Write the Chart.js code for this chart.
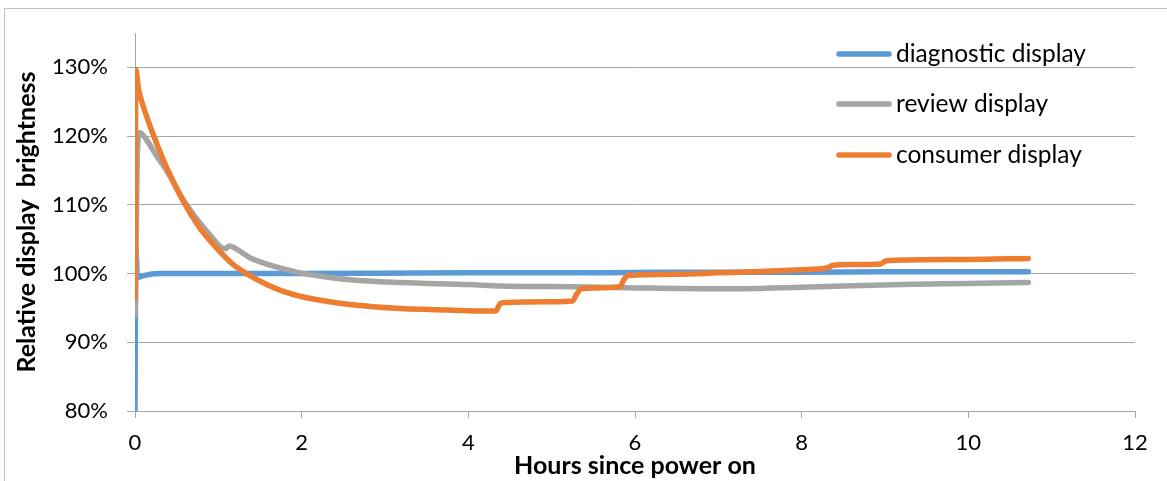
<!DOCTYPE html>
<html><head><meta charset="utf-8">
<script src="https://cdn.jsdelivr.net/npm/chart.js@4.4.0/dist/chart.umd.min.js"></script>
<style>html,body{margin:0;padding:0;background:#fff;overflow:hidden}#wrap{width:1167px;height:481px;position:relative}</style>
</head><body><div id="wrap"><canvas id="c" width="1167" height="481"></canvas></div>
<script>
const seriesNames = ['diagnostic display', 'review display', 'consumer display'];
const xTickValues = [0, 2, 4, 6, 8, 10, 12];
const yTickValues = [80, 90, 100, 110, 120, 130];
const xTitle = 'Hours since power on';
const yTitle = 'Relative display  brightness';

const diagHours  = [0, 0.01, 0.03, 0.1, 0.3, 1, 2, 3, 4, 5, 6, 7, 8, 9, 10, 10.72];
const diagValues = [80, 103.7, 99.4, 99.7, 100.0, 100.0, 100.0, 100.05, 100.1, 100.1, 100.15, 100.2, 100.2, 100.25, 100.25, 100.25];

const reviewHours  = [0, 0.005, 0.03, 0.06, 0.12, 0.25, 0.4, 0.55, 0.7, 0.88, 1.08, 1.13, 1.2, 1.38, 1.6, 1.98, 2.3, 2.58, 3.18, 4.0, 4.4, 5.0, 5.9, 6.8, 7.3, 8.0, 9.2, 10.0, 10.72];
const reviewValues = [94.0, 96.0, 118.0, 120.5, 119.8, 117.3, 114.6, 111.3, 108.6, 105.9, 103.6, 104.0, 103.7, 102.3, 101.3, 100.1, 99.5, 99.1, 98.7, 98.4, 98.2, 98.1, 97.95, 97.8, 97.8, 98.0, 98.4, 98.55, 98.7];

const consumerHours  = [0, 0.01, 0.04, 0.1, 0.22, 0.38, 0.58, 0.78, 0.98, 1.18, 1.38, 1.58, 1.78, 1.98, 2.28, 2.58, 3.18, 3.6, 4.0, 4.33, 4.38, 4.45, 5.0, 5.25, 5.3, 5.36, 5.5, 5.82, 5.87, 5.92, 6.5, 7.0, 7.5, 8.0, 8.3, 8.38, 8.6, 8.95, 9.0, 9.05, 10.0, 10.72];
const consumerValues = [96.3, 129.7, 127.0, 124.3, 120.2, 115.4, 110.5, 106.6, 103.7, 101.3, 99.7, 98.4, 97.4, 96.7, 96.0, 95.5, 94.9, 94.75, 94.6, 94.55, 95.6, 95.8, 95.9, 96.0, 97.0, 97.8, 97.9, 98.1, 99.2, 99.7, 99.9, 100.1, 100.3, 100.55, 100.8, 101.2, 101.3, 101.4, 101.8, 101.9, 102.05, 102.2];

const seriesColors = ['#5B9BD5', '#A5A5A5', '#ED7D31'];
const FONT = 'Lato';
const toPts = (h, v) => h.map((x, i) => ({x: x, y: v[i]}));

const framePlugin = {
  id: 'frame',
  beforeDraw(chart) {
    const c = chart.ctx;
    c.save();
    c.fillStyle = '#fff';
    c.fillRect(0, 0, chart.width, chart.height);
    c.strokeStyle = '#c0c0c0';
    c.lineWidth = 1;
    c.strokeRect(4.5, 8.5, 1300, 600);
    c.restore();
  }
};

const legendPlugin = {
  id: 'customLegend',
  afterDraw(chart) {
    const c = chart.ctx;
    const rows = [54, 104, 155];
    c.save();
    chart.data.datasets.forEach((ds, i) => {
      const y = rows[i];
      c.strokeStyle = ds.borderColor;
      c.lineWidth = 5.5;
      c.lineCap = 'round';
      c.beginPath();
      c.moveTo(839, y);
      c.lineTo(889, y);
      c.stroke();
      c.fillStyle = '#000';
      c.font = '24.5px ' + FONT;
      c.textBaseline = 'middle';
      c.textAlign = 'left';
      c.fillText(ds.label, 896, y);
    });
    c.restore();
  }
};

new Chart(document.getElementById('c'), {
  type: 'line',
  data: {
    datasets: [
      {label: seriesNames[0], data: toPts(diagHours, diagValues), borderColor: seriesColors[0], order: 3},
      {label: seriesNames[1], data: toPts(reviewHours, reviewValues), borderColor: seriesColors[1], order: 2},
      {label: seriesNames[2], data: toPts(consumerHours, consumerValues), borderColor: seriesColors[2], order: 1}
    ]
  },
  options: {
    responsive: false,
    animation: false,
    devicePixelRatio: 1,
    layout: {padding: {top: 33, right: 32, left: 0, bottom: 0}},
    elements: {
      point: {radius: 0, hoverRadius: 0},
      line: {borderWidth: 5.5, borderCapStyle: 'round', borderJoinStyle: 'round', cubicInterpolationMode: 'monotone', fill: false}
    },
    plugins: {legend: {display: false}, tooltip: {enabled: false}},
    scales: {
      x: {
        type: 'linear', min: 0, max: 12,
        afterFit(s) { s.height = 70; },
        afterBuildTicks(s) { s.ticks = xTickValues.map(v => ({value: v})); },
        ticks: {font: {family: FONT, size: 22}, color: '#000', padding: 12, maxRotation: 0, autoSkip: false},
        grid: {drawOnChartArea: false, drawTicks: true, tickLength: 7, color: '#a6a6a6', lineWidth: 1},
        border: {display: true, color: '#a6a6a6', width: 1},
        title: {display: true, text: xTitle, font: {family: FONT, size: 25, weight: 'bold'}, color: '#000', padding: {top: 0, bottom: 0}}
      },
      y: {
        min: 80, max: 135,
        afterFit(s) { s.width = 135; },
        afterBuildTicks(s) { s.ticks = yTickValues.map(v => ({value: v})); },
        ticks: {callback: v => v + '%', font: {family: FONT, size: 22}, color: '#000', padding: 19},
        grid: {color: '#a6a6a6', lineWidth: 1, tickLength: 8},
        border: {display: true, color: '#a6a6a6', width: 1},
        title: {display: true, text: yTitle, font: {family: FONT, size: 25, weight: 'bold'}, color: '#000', padding: {top: 12, bottom: 0}}
      }
    }
  },
  plugins: [framePlugin, legendPlugin]
});
</script></body></html>
